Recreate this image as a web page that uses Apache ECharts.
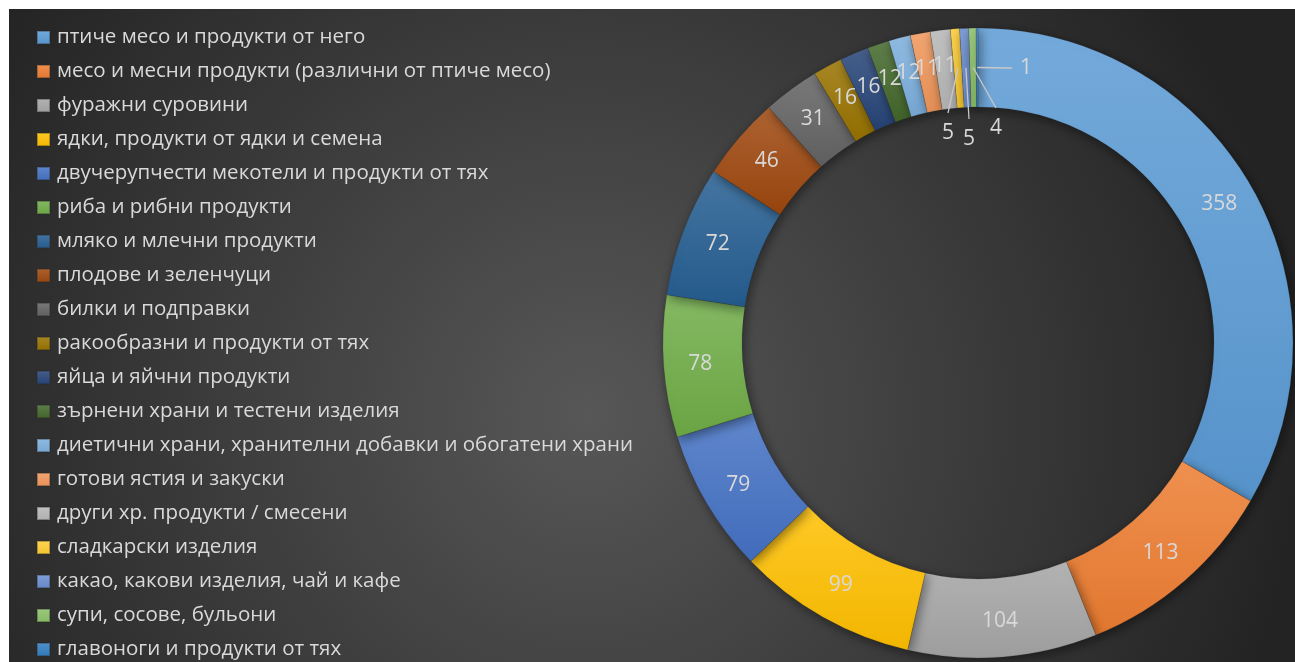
<!DOCTYPE html>
<html>
<head>
<meta charset="utf-8">
<script src="https://cdn.jsdelivr.net/npm/echarts@6/dist/echarts.min.js"></script>
<style>
  html, body { margin: 0; padding: 0; background: #fff; }
  #chart { position: absolute; left: 9px; top: 9px; width: 1286px; height: 653px; }
</style>
</head>
<body>
<div id="chart"></div>
<script>
let categories = [
    'птиче месо и продукти от него',
    'месо и месни продукти (различни от птиче месо)',
    'фуражни суровини',
    'ядки, продукти от ядки и семена',
    'двучерупчести мекотели и продукти от тях',
    'риба и рибни продукти',
    'мляко и млечни продукти',
    'плодове и зеленчуци',
    'билки и подправки',
    'ракообразни и продукти от тях',
    'яйца и яйчни продукти',
    'зърнени храни и тестени изделия',
    'диетични храни, хранителни добавки и обогатени храни',
    'готови ястия и закуски',
    'други хр. продукти / смесени',
    'сладкарски изделия',
    'какао, какови изделия, чай и кафе',
    'супи, сосове, бульони',
    'главоноги и продукти от тях'
]
let values = [358, 113, 104, 99, 79, 78, 72, 46, 31, 16, 16, 12, 12, 11, 11, 5, 5, 4, 1]

let palette = [
    '#5B9BD5', '#ED7D31', '#A5A5A5', '#FFC000', '#4472C4', '#70AD47',
    '#255E91', '#9E480E', '#636363', '#997300', '#264478', '#43682B',
    '#7CAFDD', '#F1975A', '#B7B7B7', '#FFCD33', '#698ED0', '#8CC168', '#327DC2'
]

// pie geometry (container px)
const CX = 969, CY = 334, R_IN = 236, R_OUT = 315

function lighten(hex, amt) {
    let n = parseInt(hex.slice(1), 16)
    let r = (n >> 16) & 255, g = (n >> 8) & 255, b = n & 255
    r = Math.round(r + (255 - r) * amt)
    g = Math.round(g + (255 - g) * amt)
    b = Math.round(b + (255 - b) * amt)
    return `rgb(${r},${g},${b})`
}
function darken(hex, amt) {
    let n = parseInt(hex.slice(1), 16)
    let r = (n >> 16) & 255, g = (n >> 8) & 255, b = n & 255
    return `rgb(${Math.round(r * (1 - amt))},${Math.round(g * (1 - amt))},${Math.round(b * (1 - amt))})`
}

// label offsets (from pie center) for the tiny slices at the top
let smallLabels = {
    15: { dx: -30, dy: -210, lx: 0, ly: -20 },
    16: { dx: -9, dy: -204, lx: 0, ly: -20 },
    17: { dx: 18, dy: -215, lx: 0, ly: -20 },
    18: { dx: 48, dy: -275, lx: -14, ly: 0 }
}

let total = values.reduce((a, b) => a + b, 0)
function midPoint(i) {
    let before = 0
    for (let k = 0; k < i; k++) before += values[k]
    let ang = (before + values[i] / 2) / total * Math.PI * 2
    let r = (R_IN + R_OUT) / 2
    return [CX + r * Math.sin(ang), CY - r * Math.cos(ang)]
}

let data = categories.map((name, i) => ({
    name: name,
    value: values[i],
    itemStyle: {
        color: {
            type: 'linear', x: 0, y: 0, x2: 0, y2: 1,
            colorStops: [
                { offset: 0, color: lighten(palette[i], 0.15) },
                { offset: 1, color: darken(palette[i], 0.05) }
            ]
        }
    }
}))

// leader lines for the tiny slices
let leaders = Object.keys(smallLabels).map(k => {
    let s = smallLabels[k]
    let m = midPoint(+k)
    let e = [CX + s.dx + s.lx, CY + s.dy + s.ly]
    return {
        type: 'polyline',
        z: 100,
        silent: true,
        shape: { points: [m, e] },
        style: { stroke: '#c8c8c8', lineWidth: 1.3, fill: null }
    }
})

let chart = echarts.init(document.getElementById('chart'))
chart.setOption({
    backgroundColor: {
        type: 'radial', x: 0.45, y: 0.62, r: 1.1,
        colorStops: [
            { offset: 0, color: '#575757' },
            { offset: 1, color: '#232323' }
        ]
    },
    animation: false,
    graphic: leaders,
    legend: {
        orient: 'vertical',
        left: 27,
        top: 18,
        padding: 0,
        itemWidth: 13,
        itemHeight: 13,
        itemGap: 13,
        icon: 'rect',
        textStyle: {
            color: '#d9d9d9',
            fontSize: 20.5,
            lineHeight: 21,
            fontFamily: 'Open Sans',
            padding: [0, 0, 0, 2]
        },
        data: categories
    },
    series: [
        {
            type: 'pie',
            center: [CX, CY],
            radius: [R_IN, R_OUT],
            startAngle: 90,
            clockwise: true,
            avoidLabelOverlap: false,
            itemStyle: {
                borderColor: 'rgba(40,40,40,0.35)',
                borderWidth: 0.5,
                shadowBlur: 12,
                shadowOffsetX: 2,
                shadowOffsetY: 3,
                shadowColor: 'rgba(0,0,0,0.45)'
            },
            label: {
                show: true,
                position: 'inside',
                formatter: '{c}',
                color: '#d9d9d9',
                fontSize: 21,
                fontFamily: 'Open Sans'
            },
            labelLine: { show: false },
            labelLayout: function (params) {
                let s = smallLabels[params.dataIndex]
                if (!s) return {}
                return {
                    x: CX + s.dx,
                    y: CY + s.dy,
                    align: 'center',
                    verticalAlign: 'middle'
                }
            },
            data: data
        }
    ]
})
</script>
</body>
</html>
